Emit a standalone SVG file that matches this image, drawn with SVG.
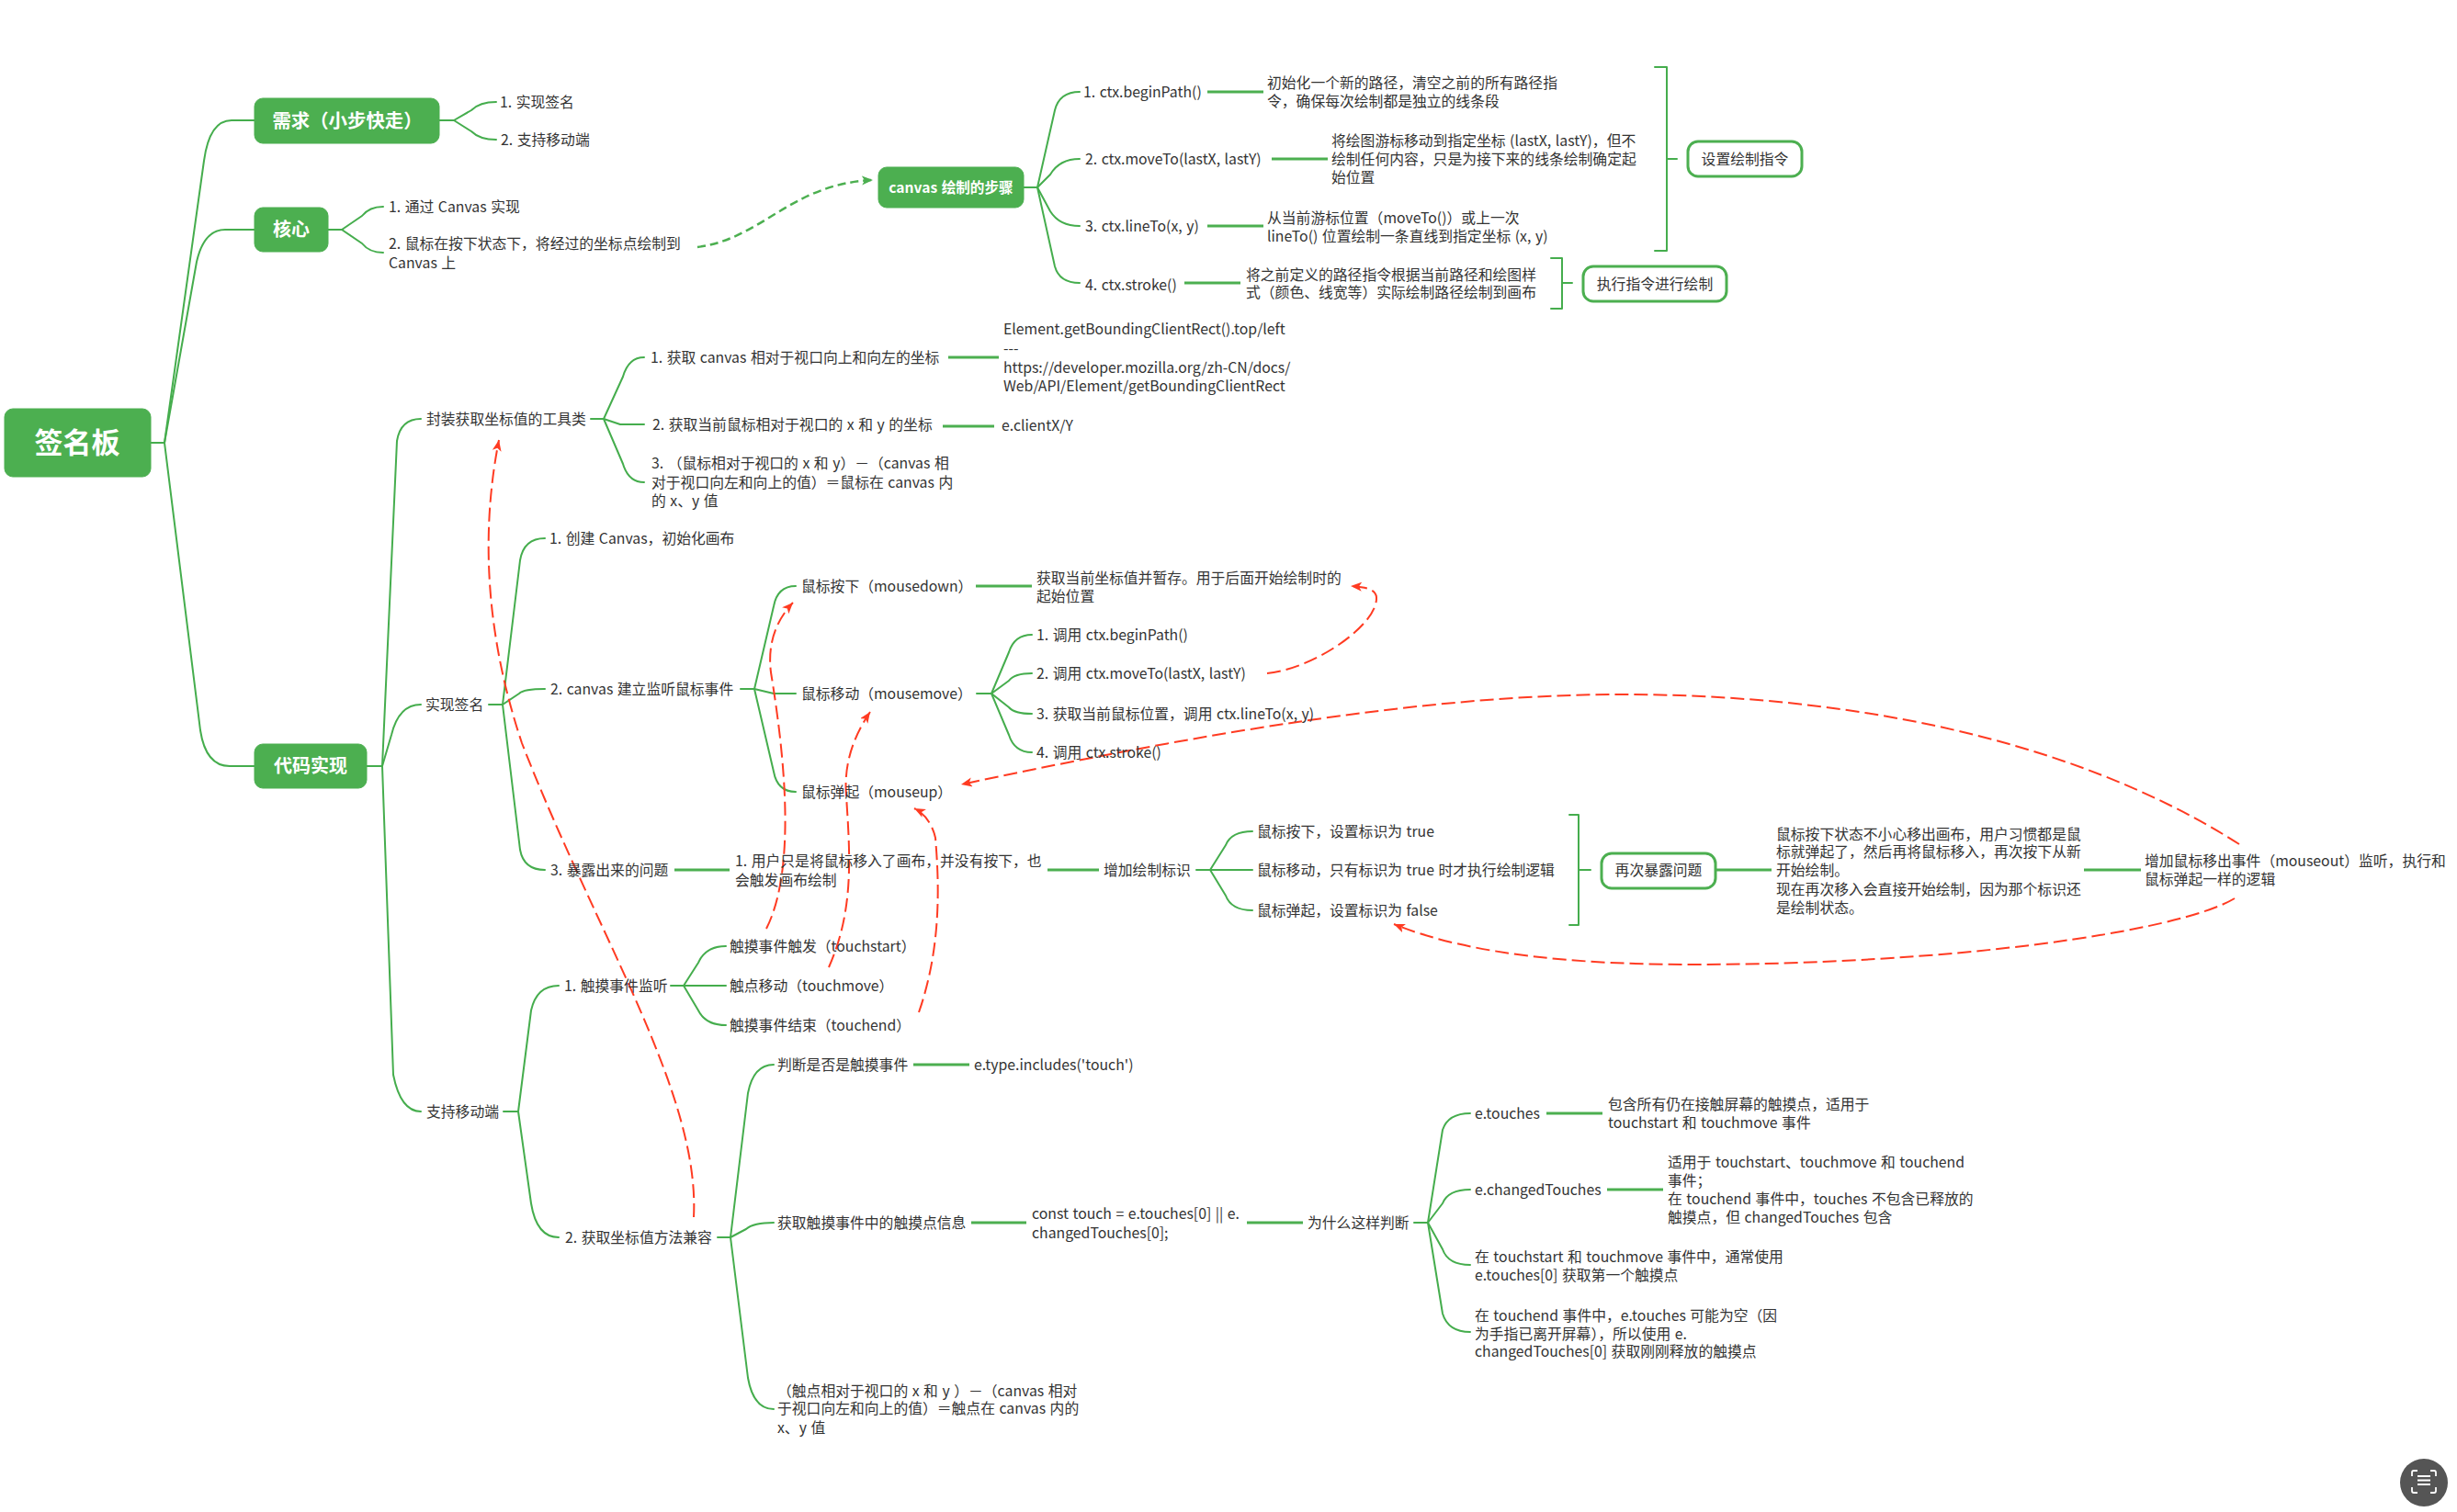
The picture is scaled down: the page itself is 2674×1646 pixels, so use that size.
<svg xmlns="http://www.w3.org/2000/svg" width="2674" height="1646" viewBox="0 0 2674 1646">
<style>
text{font-family:"Noto Sans CJK SC","Noto Sans",sans-serif;font-size:15.8px;word-spacing:1px;fill:#333;white-space:pre}
.m{fill:#fff;font-weight:700;text-anchor:middle}
.b{text-anchor:middle}
.n{fill:#4caf50;stroke:#4caf50;stroke-width:1}
.o{fill:#fff;stroke:#4caf50;stroke-width:3}
.c{fill:none;stroke:#45ad4d;stroke-width:2;stroke-linecap:round;stroke-linejoin:round}
.s{fill:none;stroke:#4caf50;stroke-width:3}
.r{fill:none;stroke:#ff3b22;stroke-width:2;stroke-dasharray:15 6;marker-end:url(#ar)}
.g{fill:none;stroke:#4caf50;stroke-width:2.5;stroke-dasharray:9 5;marker-end:url(#ag)}
</style>
<defs>
<marker id="ar" markerUnits="userSpaceOnUse" markerWidth="14" markerHeight="12" refX="12" refY="5" orient="auto"><path d="M0,0L12,5L0,10L3,5Z" fill="#ff3b22"/></marker>
<marker id="ag" markerUnits="userSpaceOnUse" markerWidth="14" markerHeight="12" refX="12" refY="5" orient="auto"><path d="M0,0L12,5L0,10L3,5Z" fill="#4caf50"/></marker>
</defs>
<rect width="2674" height="1646" fill="#fff"/>
<g id="connectors">
<path class="c" d="M164,482H179L222,175Q228,131 252,131H277"/>
<path class="c" d="M179,482L214,285Q222,250 245,250H277"/>
<path class="c" d="M179,482L218,795Q224,834 250,834H277"/>
<path class="c" d="M478,131H494L513,120Q522,111 540,111"/>
<path class="c" d="M494,131L513,143Q522,152 540,152"/>
<path class="c" d="M357,250H372L394,235Q402,225 417,225"/>
<path class="c" d="M372,250L394,265Q402,275 417,275"/>
<path class="c" d="M1114,204H1129L1148,120Q1153,100 1175,100"/>
<path class="c" d="M1129,204L1143,190Q1153,173 1175,173"/>
<path class="c" d="M1129,204L1143,230Q1153,246 1175,246"/>
<path class="c" d="M1129,204L1148,290Q1153,308 1175,308"/>
<path class="s" d="M1314,100H1375M1384,173H1445M1314,246H1375M1289,308H1350"/>
<path class="c" d="M1801,73H1814V273H1801M1814,173H1825"/>
<path class="c" d="M1688,281H1700V336H1688M1700,308H1711"/>
<path class="c" d="M1708,887H1718V1007H1708M1718,947H1731"/>
<path class="c" d="M399,834H416L432,480Q436,456 458,456"/>
<path class="c" d="M416,834L426,800Q434,767 458,767"/>
<path class="c" d="M416,834L428,1170Q436,1210 458,1210"/>
<path class="c" d="M643,456H657L678,410Q684,389 701,389"/>
<path class="c" d="M657,456L675,462H701"/>
<path class="c" d="M657,456L678,505Q684,525 701,525"/>
<path class="s" d="M1032,389H1087M1026,464H1082"/>
<path class="c" d="M532,767H547L566,610Q570,586 593,586"/>
<path class="c" d="M547,767L565,755Q570,750 593,750"/>
<path class="c" d="M547,767L566,925Q570,947 593,947"/>
<path class="s" d="M734,947H794M1140,947H1196"/>
<path class="c" d="M806,750H821L842,660Q846,638 866,638"/>
<path class="c" d="M821,750L842,755H866"/>
<path class="c" d="M821,750L842,840Q846,862 866,862"/>
<path class="s" d="M1062,638H1123"/>
<path class="c" d="M1063,755H1079L1098,710Q1104,691 1123,691"/>
<path class="c" d="M1079,755L1098,741Q1104,733 1123,733"/>
<path class="c" d="M1079,755L1098,770Q1104,777 1123,777"/>
<path class="c" d="M1079,755L1098,800Q1104,819 1123,819"/>
<path class="c" d="M1302,947H1317L1334,920Q1340,905 1363,905"/>
<path class="c" d="M1317,947H1363"/>
<path class="c" d="M1317,947L1334,975Q1340,991 1363,991"/>
<path class="s" d="M1868,947H1928M2268,947H2330"/>
<path class="c" d="M548,1210H564L578,1100Q584,1073 608,1073"/>
<path class="c" d="M564,1210L578,1310Q584,1347 608,1347"/>
<path class="c" d="M730,1073H744L760,1048Q768,1030 790,1030"/>
<path class="c" d="M744,1073H790"/>
<path class="c" d="M744,1073L760,1100Q768,1116 790,1116"/>
<path class="c" d="M781,1347H795L814,1190Q820,1159 842,1159"/>
<path class="c" d="M795,1347L812,1338Q820,1331 842,1331"/>
<path class="c" d="M795,1347L814,1500Q820,1534 842,1534"/>
<path class="s" d="M994,1159H1055M1057,1331H1117M1357,1331H1418"/>
<path class="c" d="M1539,1331H1554L1570,1230Q1576,1212 1600,1212"/>
<path class="c" d="M1554,1331L1570,1310Q1576,1295 1600,1295"/>
<path class="c" d="M1554,1331L1570,1360Q1576,1377 1600,1377"/>
<path class="c" d="M1554,1331L1570,1430Q1576,1450 1600,1450"/>
<path class="s" d="M1683,1212H1744M1749,1295H1810"/>
<path class="g" d="M759,269C830,260 860,200 950,196"/>
<path class="r" d="M1379,733C1430,728 1500,680 1498,650C1497,642 1488,639 1470,638"/>
<path class="r" d="M834,1011C870,940 850,800 839,732C835,700 845,675 863,656"/>
<path class="r" d="M902,1053C930,990 925,930 921,866C918,830 930,800 947,775"/>
<path class="r" d="M1000,1102C1025,1030 1022,960 1018,912C1014,895 1005,885 995,880"/>
<path class="r" d="M755,1325C762,1190 650,1020 568,809C545,740 515,620 543,479"/>
<path class="r" d="M2437,919C2250,800 2000,756 1764,756C1550,756 1300,800 1046,854"/>
<path class="r" d="M2432,978C2370,1015 2120,1050 1843,1050C1720,1050 1600,1040 1517,1006"/>
</g>
<g id="root"><rect class="n" x="5" y="445" width="159" height="74" rx="9"/><text class="m" x="84" y="493" style="font-size:31px">签名板</text></g>
<g id="n-xuqiu"><rect class="n" x="277" y="107" width="201" height="49" rx="9"/><text class="m" x="378" y="139" style="font-size:20.4px">需求（小步快走）</text></g>
<g id="n-hexin"><rect class="n" x="277" y="226" width="80" height="48" rx="9"/><text class="m" x="317" y="257" style="font-size:20px">核心</text></g>
<g id="n-daima"><rect class="n" x="277" y="810" width="122" height="48" rx="9"/><text class="m" x="338" y="841" style="font-size:20px">代码实现</text></g>
<g id="n-canvas"><rect class="n" x="956" y="182" width="158" height="44" rx="9"/><text class="m" x="1035" y="210" style="font-size:15.6px">canvas 绘制的步骤</text></g>
<g id="b-set"><rect class="o" x="1837" y="154" width="124" height="38" rx="11"/><text class="b" x="1899" y="179">设置绘制指令</text></g>
<g id="b-exec"><rect class="o" x="1723" y="290" width="156" height="38" rx="11"/><text class="b" x="1801" y="315">执行指令进行绘制</text></g>
<g id="b-again"><rect class="o" x="1743" y="929" width="124" height="38" rx="11"/><text class="b" x="1805" y="953">再次暴露问题</text></g>
<g id="labels">
<text x="544" y="117">1. 实现签名</text>
<text x="545" y="158">2. 支持移动端</text>
<text x="423" y="231">1. 通过 Canvas 实现</text>
<text x="423" y="271">2. 鼠标在按下状态下，将经过的坐标点绘制到</text>
<text x="423" y="292">Canvas 上</text>
<text x="1179" y="106">1. ctx.beginPath()</text>
<text x="1379" y="96">初始化一个新的路径，清空之前的所有路径指</text>
<text x="1379" y="116">令，确保每次绘制都是独立的线条段</text>
<text x="1181" y="179">2. ctx.moveTo(lastX, lastY)</text>
<text x="1449" y="159">将绘图游标移动到指定坐标 (lastX, lastY)，但不</text>
<text x="1449" y="179">绘制任何内容，只是为接下来的线条绘制确定起</text>
<text x="1449" y="199">始位置</text>
<text x="1181" y="252">3. ctx.lineTo(x, y)</text>
<text x="1379" y="243">从当前游标位置（moveTo()）或上一次</text>
<text x="1379" y="263">lineTo() 位置绘制一条直线到指定坐标 (x, y)</text>
<text x="1181" y="316">4. ctx.stroke()</text>
<text x="1356" y="305">将之前定义的路径指令根据当前路径和绘图样</text>
<text x="1356" y="324">式（颜色、线宽等）实际绘制路径绘制到画布</text>
<text x="464" y="462">封装获取坐标值的工具类</text>
<text x="708" y="395">1. 获取 canvas 相对于视口向上和向左的坐标</text>
<text x="1092" y="364">Element.getBoundingClientRect().top/left</text>
<text x="1092" y="385">---</text>
<text x="1092" y="406">https://developer.mozilla.org/zh-CN/docs/</text>
<text x="1092" y="426">Web/API/Element/getBoundingClientRect</text>
<text x="710" y="468">2. 获取当前鼠标相对于视口的 x 和 y 的坐标</text>
<text x="1090" y="469">e.clientX/Y</text>
<text x="709" y="510">3. （鼠标相对于视口的 x 和 y）－（canvas 相</text>
<text x="709" y="531">对于视口向左和向上的值）＝鼠标在 canvas 内</text>
<text x="709" y="551">的 x、y 值</text>
<text x="463" y="773">实现签名</text>
<text x="598" y="592">1. 创建 Canvas，初始化画布</text>
<text x="599" y="756">2. canvas 建立监听鼠标事件</text>
<text x="599" y="953">3. 暴露出来的问题</text>
<text x="872" y="644">鼠标按下（mousedown）</text>
<text x="872" y="761">鼠标移动（mousemove）</text>
<text x="872" y="868">鼠标弹起（mouseup）</text>
<text x="1128" y="635">获取当前坐标值并暂存。用于后面开始绘制时的</text>
<text x="1128" y="655">起始位置</text>
<text x="1128" y="697">1. 调用 ctx.beginPath()</text>
<text x="1128" y="739">2. 调用 ctx.moveTo(lastX, lastY)</text>
<text x="1128" y="783">3. 获取当前鼠标位置，调用 ctx.lineTo(x, y)</text>
<text x="1128" y="825">4. 调用 ctx.stroke()</text>
<text x="800" y="943">1. 用户只是将鼠标移入了画布，并没有按下，也</text>
<text x="800" y="964">会触发画布绘制</text>
<text x="1201" y="953">增加绘制标识</text>
<text x="1368" y="911">鼠标按下，设置标识为 true</text>
<text x="1368" y="953">鼠标移动，只有标识为 true 时才执行绘制逻辑</text>
<text x="1368" y="997">鼠标弹起，设置标识为 false</text>
<text x="1933" y="914">鼠标按下状态不小心移出画布，用户习惯都是鼠</text>
<text x="1933" y="933">标就弹起了，然后再将鼠标移入，再次按下从新</text>
<text x="1933" y="953">开始绘制。</text>
<text x="1933" y="974">现在再次移入会直接开始绘制，因为那个标识还</text>
<text x="1933" y="994">是绘制状态。</text>
<text x="2334" y="943">增加鼠标移出事件（mouseout）监听，执行和</text>
<text x="2334" y="963">鼠标弹起一样的逻辑</text>
<text x="464" y="1216">支持移动端</text>
<text x="614" y="1079">1. 触摸事件监听</text>
<text x="794" y="1036">触摸事件触发（touchstart）</text>
<text x="794" y="1079">触点移动（touchmove）</text>
<text x="794" y="1122">触摸事件结束（touchend）</text>
<text x="615" y="1353">2. 获取坐标值方法兼容</text>
<text x="846" y="1165">判断是否是触摸事件</text>
<text x="1060" y="1165">e.type.includes('touch')</text>
<text x="846" y="1337">获取触摸事件中的触摸点信息</text>
<text x="1123" y="1327">const touch = e.touches[0] || e.</text>
<text x="1123" y="1348">changedTouches[0];</text>
<text x="1423" y="1337">为什么这样判断</text>
<text x="846" y="1520">（触点相对于视口的 x 和 y ）－（canvas 相对</text>
<text x="846" y="1539">于视口向左和向上的值）＝触点在 canvas 内的</text>
<text x="846" y="1560">x、y 值</text>
<text x="1605" y="1218">e.touches</text>
<text x="1750" y="1208">包含所有仍在接触屏幕的触摸点，适用于</text>
<text x="1750" y="1228">touchstart 和 touchmove 事件</text>
<text x="1605" y="1301">e.changedTouches</text>
<text x="1815" y="1271">适用于 touchstart、touchmove 和 touchend</text>
<text x="1815" y="1291">事件；</text>
<text x="1815" y="1311">在 touchend 事件中，touches 不包含已释放的</text>
<text x="1815" y="1331">触摸点，但 changedTouches 包含</text>
<text x="1605" y="1374">在 touchstart 和 touchmove 事件中，通常使用</text>
<text x="1605" y="1394">e.touches[0] 获取第一个触摸点</text>
<text x="1605" y="1438">在 touchend 事件中，e.touches 可能为空（因</text>
<text x="1605" y="1458">为手指已离开屏幕），所以使用 e.</text>
<text x="1605" y="1477">changedTouches[0] 获取刚刚释放的触摸点</text>
</g>
<g id="icon">
<circle cx="2638" cy="1614" r="26" fill="#555"/>
<path d="M2631,1601H2627Q2625,1601 2625,1603V1607M2645,1601H2649Q2651,1601 2651,1603V1607M2631,1625H2627Q2625,1625 2625,1623V1619M2645,1625H2649Q2651,1625 2651,1623V1619M2631,1607H2645M2631,1611.500H2645M2631,1616H2645" fill="none" stroke="#fff" stroke-width="1.800"/>
</g>
</svg>
